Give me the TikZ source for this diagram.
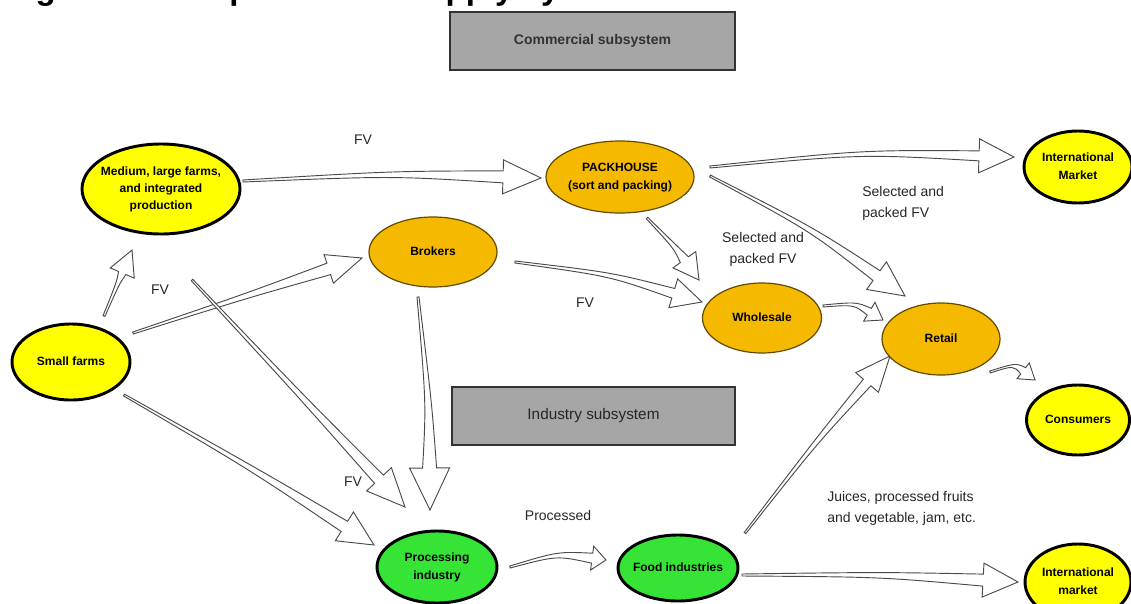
\documentclass[tikz,border=0pt]{standalone}
\usepackage{fontspec}
\setmainfont{Liberation Sans}
\usetikzlibrary{shapes.geometric,calc,backgrounds}
\definecolor{yel}{HTML}{FFFF00}
\definecolor{org}{HTML}{F5BA00}
\definecolor{grn}{HTML}{36E436}
\definecolor{boxg}{HTML}{A6A6A6}
\definecolor{arrowc}{HTML}{4A4A4A}
\newcommand\nodetxt[1]{\makebox[0pt]{\begin{tabular}{@{}c@{}}#1\end{tabular}}}
\newcommand\barrow[6]{%
  \coordinate (ba) at (#1);
  \coordinate (bb) at (#2);
  \coordinate (bm) at ($(ba)!0.5!(bb)$);
  \coordinate (bc) at ($(bm)!#3*0.75pt!90:(bb)$);
  \coordinate (bn) at ($(bb)!#4*0.75pt!(bc)$);
  \path[barrowline] ($(ba)!0.75pt!90:(bc)$)
     .. controls ($(bc)!#6*0.4*0.75pt!90:(bb)$) .. ($(bn)!#6*0.75pt!90:(bb)$)
     -- ($(bn)!#5*0.75pt!90:(bb)$) -- (bb) -- ($(bn)!#5*0.75pt!-90:(bb)$)
     -- ($(bn)!#6*0.75pt!-90:(bb)$)
     .. controls ($(bc)!#6*0.4*0.75pt!-90:(bb)$) .. ($(ba)!0.75pt!-90:(bc)$) -- cycle;
}
\tikzset{
  ell/.style={ellipse, inner sep=0pt, font=\bfseries\fontsize{9}{13}\selectfont},
  ynode/.style={ell, draw=black, line width=2.2pt, fill=yel},
  onode/.style={ell, draw=black!60!org, line width=0.9pt, fill=org},
  gnode/.style={ell, draw=black, line width=2.2pt, fill=grn},
  subbox/.style={rectangle, draw=black!80, line width=1pt, fill=boxg, inner sep=0pt},
  lbl/.style={inner sep=0pt, text=black!85, font=\fontsize{10.5}{15.75}\selectfont},
  barrowline/.style={draw=arrowc, line width=0.7pt, fill=white, line join=miter},
}
\begin{document}
\begin{tikzpicture}[x=0.75pt,y=-0.75pt]
\useasboundingbox (0,0) rectangle (1131,603);
\clip (0,0) rectangle (1131,603);

% title (cut off at the top)
\node[anchor=base west, inner sep=0pt, font=\bfseries\fontsize{24.75}{30}\selectfont] (title) at (6,-1) {Figure 1. Components of supply system};

% subsystem boxes
\node[subbox, minimum width=213.75pt, minimum height=43.5pt, font=\bfseries\fontsize{10.5}{12}\selectfont, text=black!80] (comm) at (592.5,41) {Commercial subsystem};
\node[subbox, minimum width=212.25pt, minimum height=43.5pt, font=\fontsize{11.5}{13}\selectfont, text=black!85] (ind) at (593.5,416) {Industry subsystem};

% nodes
\node[ynode, minimum width=118.5pt, minimum height=67.5pt] (med) at (161,189) {\nodetxt{Medium, large farms,\\and integrated\\production}};
\node[onode, minimum width=111pt, minimum height=54pt] (pack) at (620,177) {\nodetxt{PACKHOUSE\\(sort and packing)}};
\node[ynode, minimum width=81pt, minimum height=54pt] (intlA) at (1078,167) {\nodetxt{International\\Market}};
\node[onode, minimum width=96pt, minimum height=52.5pt] (brok) at (433,252) {\nodetxt{Brokers}};
\node[ynode, minimum width=88.5pt, minimum height=57pt] (small) at (71,362) {\nodetxt{Small farms}};
\node[onode, minimum width=89.25pt, minimum height=52.5pt] (whole) at (762,318) {\nodetxt{Wholesale}};
\node[onode, minimum width=88.5pt, minimum height=54pt] (retail) at (941,339) {\nodetxt{Retail}};
\node[ynode, minimum width=77.25pt, minimum height=52.5pt] (cons) at (1078,420) {\nodetxt{Consumers}};
\node[gnode, minimum width=90pt, minimum height=54pt] (proc) at (437,567) {\nodetxt{Processing\\industry}};
\node[gnode, minimum width=90pt, minimum height=49.5pt] (food) at (678,568) {\nodetxt{Food industries}};
\node[ynode, minimum width=79.5pt, minimum height=57pt] (intlB) at (1078,582) {\nodetxt{International\\market}};

% labels
\node[lbl] (fvA) at (363,140) {FV};
\node[lbl] (fvB) at (160,290) {FV};
\node[lbl] (fvC) at (585,303) {FV};
\node[lbl] (fvD) at (353,482) {FV};
\node[lbl] (procd) at (558,515) {Processed};
\node[lbl, anchor=west, align=left] (selA) at (862,203) {Selected and\\packed FV};
\node[lbl, align=center] (selB) at (763,249) {Selected and\\packed FV};
\node[lbl, anchor=west, align=left] (juice) at (827,508) {Juices, processed fruits\\and vegetable, jam, etc.};

% block arrows
\begin{scope}[on background layer]
\barrow{$(med)+(82,-8)$}{$(pack)+(-79,1)$}{6}{38}{17}{6}
\barrow{$(pack)+(90,-10)$}{$(intlA)+(-64,-10)$}{10}{35}{17}{5}
\barrow{$(pack)+(90,-1)$}{$(retail)+(-36,-43)$}{8}{35}{17}{6}
\barrow{$(pack)+(27,41)$}{$(whole)+(-63,-38)$}{3}{25}{14}{5}
\barrow{$(brok)+(82,10)$}{$(whole)+(-60,-16)$}{8}{30}{15}{5}
\barrow{$(whole)+(61,-12)$}{$(retail)+(-58,-19)$}{10}{16}{11}{4}
\barrow{$(retail)+(49,33)$}{$(cons)+(-43,-40)$}{12}{15}{10}{4}
\barrow{$(small)+(33,-46)$}{$(med)+(-29,61)$}{0}{25}{13}{4}
\barrow{$(small)+(62,-29)$}{$(brok)+(-71,6)$}{0}{35}{15}{6}
\barrow{$(small)+(53,33)$}{$(proc)+(-63,-22)$}{3}{35}{17}{6}
\barrow{$(med)+(31,91)$}{$(proc)+(-32,-60)$}{0}{38}{17}{6}
\barrow{$(brok)+(-15,45)$}{$(proc)+(-7,-57)$}{5}{42}{20}{7}
\barrow{$(proc)+(73,0)$}{$(food)+(-72,-8)$}{10}{14}{12}{5}
\barrow{$(food)+(67,-35)$}{$(retail)+(-51,17)$}{3}{35}{15}{5}
\barrow{$(food)+(64,7)$}{$(intlB)+(-60,0)$}{4}{35}{17}{6}
\end{scope}
\end{tikzpicture}
\end{document}
